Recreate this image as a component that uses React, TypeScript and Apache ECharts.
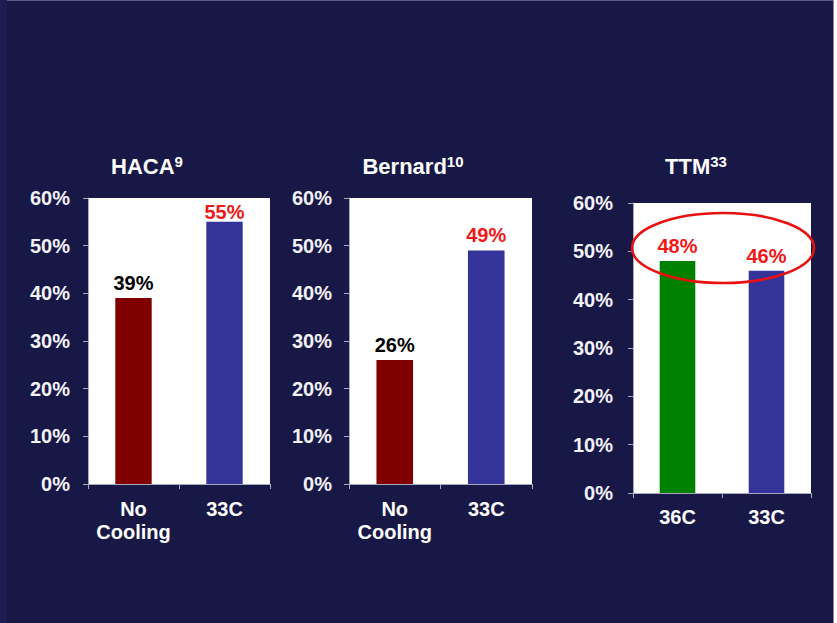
import React, { useEffect, useRef } from "react";
import * as echarts from "echarts";

const titles = ["HACA", "Bernard", "TTM"];
const titleSups = ["9", "10", "33"];
const categoriesA = ["No\nCooling", "33C"];
const categoriesB = ["No\nCooling", "33C"];
const categoriesC = ["36C", "33C"];
const valuesA = [39, 55];
const valuesB = [26, 49];
const valuesC = [48, 46];
const yTicks = [0, 10, 20, 30, 40, 50, 60];

const FONT = "'Liberation Sans', Arial, sans-serif";
const RED = "#800000";
const BLUE = "#333399";
const GREEN = "#008000";
const LABEL_RED = "#f01818";

export default function App() {
  const ref = useRef<HTMLDivElement>(null);
  useEffect(() => {
    if (!ref.current) return;
    const chart = echarts.init(ref.current, null, { renderer: "svg" });

    const grids = [
      { left: 88, right: 567, top: 198, bottom: 139 },
      { left: 349, right: 305, top: 198, bottom: 139 },
      { left: 633, right: 26, top: 203, bottom: 130 },
    ];
    const cats = [categoriesA, categoriesB, categoriesC];
    const vals = [valuesA, valuesB, valuesC];
    const colors = [
      [RED, BLUE],
      [RED, BLUE],
      [GREEN, BLUE],
    ];
    const labelColors = [
      ["#000000", LABEL_RED],
      ["#000000", LABEL_RED],
      [LABEL_RED, LABEL_RED],
    ];
    const yMargins = [18, 17, 20];
    const titleX = [147, 413, 696];

    const option: any = {
      animation: false,
      backgroundColor: "#181846",
      grid: grids.map((g) => ({
        ...g,
        show: true,
        backgroundColor: "#ffffff",
        borderWidth: 0,
      })),
      xAxis: cats.map((c, i) => ({
        type: "category",
        gridIndex: i,
        data: c,
        axisLine: { show: true, lineStyle: { color: "#a8a8c0", width: 1 } },
        axisTick: { show: true, length: 5, lineStyle: { color: "#a8a8c0" } },
        axisLabel: {
          interval: 0,
          hideOverlap: false,
          color: "#ffffff",
          fontFamily: FONT,
          fontWeight: "bold",
          fontSize: 20,
          lineHeight: 23,
          margin: i === 2 ? 12 : 13,
        },
      })),
      yAxis: cats.map((_, i) => ({
        type: "value",
        gridIndex: i,
        min: yTicks[0],
        max: yTicks[yTicks.length - 1],
        interval: 10,
        splitLine: { show: false },
        axisLine: { show: true, lineStyle: { color: "#a8a8c0", width: 1 } },
        axisTick: { show: true, length: 5, lineStyle: { color: "#a8a8c0" } },
        axisLabel: {
          color: "#f2f2f8",
          fontFamily: FONT,
          fontWeight: "bold",
          fontSize: 20,
          margin: yMargins[i],
          formatter: (v: number) => v + "%",
        },
      })),
      series: vals.map((v, i) => ({
        type: "bar",
        xAxisIndex: i,
        yAxisIndex: i,
        barWidth: "40%",
        data: v.map((val, j) => ({
          value: val,
          itemStyle: { color: colors[i][j] },
          label: {
            show: true,
            position: "top",
            distance: i === 0 && j === 1 ? 0 : 5,
            color: labelColors[i][j],
            fontFamily: FONT,
            fontWeight: "bold",
            fontSize: 20,
            formatter: "{c}%",
          },
        })),
      })),
      graphic: [
        ...titles.map((t, i) => ({
          type: "text",
          x: titleX[i],
          y: 166,
          style: {
            text: "{a|" + t + "}{s|" + titleSups[i] + "}",
            align: "center",
            verticalAlign: "middle",
            rich: {
              a: {
                fontFamily: FONT,
                fontWeight: "bold",
                fontSize: 22,
                lineHeight: 24,
                fill: "#ffffff",
              },
              s: {
                fontFamily: FONT,
                fontWeight: "bold",
                fontSize: 15,
                lineHeight: 22,
                verticalAlign: "top",
                fill: "#ffffff",
              },
            },
          },
        })),
        {
          type: "ellipse",
          shape: { cx: 723, cy: 248, rx: 91, ry: 35 },
          style: { fill: "none", stroke: "#e81010", lineWidth: 2.5 },
          z: 100,
        },
        { type: "rect", shape: { x: 0, y: 0, width: 837, height: 1 }, style: { fill: "#5a5a88" } },
        { type: "rect", shape: { x: 0, y: 0, width: 7, height: 623 }, style: { fill: "#1c1c50" } },
        { type: "rect", shape: { x: 833, y: 0, width: 1, height: 623 }, style: { fill: "#8a8aa8" } },
        { type: "rect", shape: { x: 834, y: 0, width: 3, height: 623 }, style: { fill: "#ffffff" } },
      ],
    };
    chart.setOption(option);
    return () => chart.dispose();
  }, []);
  return (
    <div
      ref={ref}
      style={{ position: "absolute", left: 0, top: 0, width: 837, height: 623 }}
    />
  );
}
